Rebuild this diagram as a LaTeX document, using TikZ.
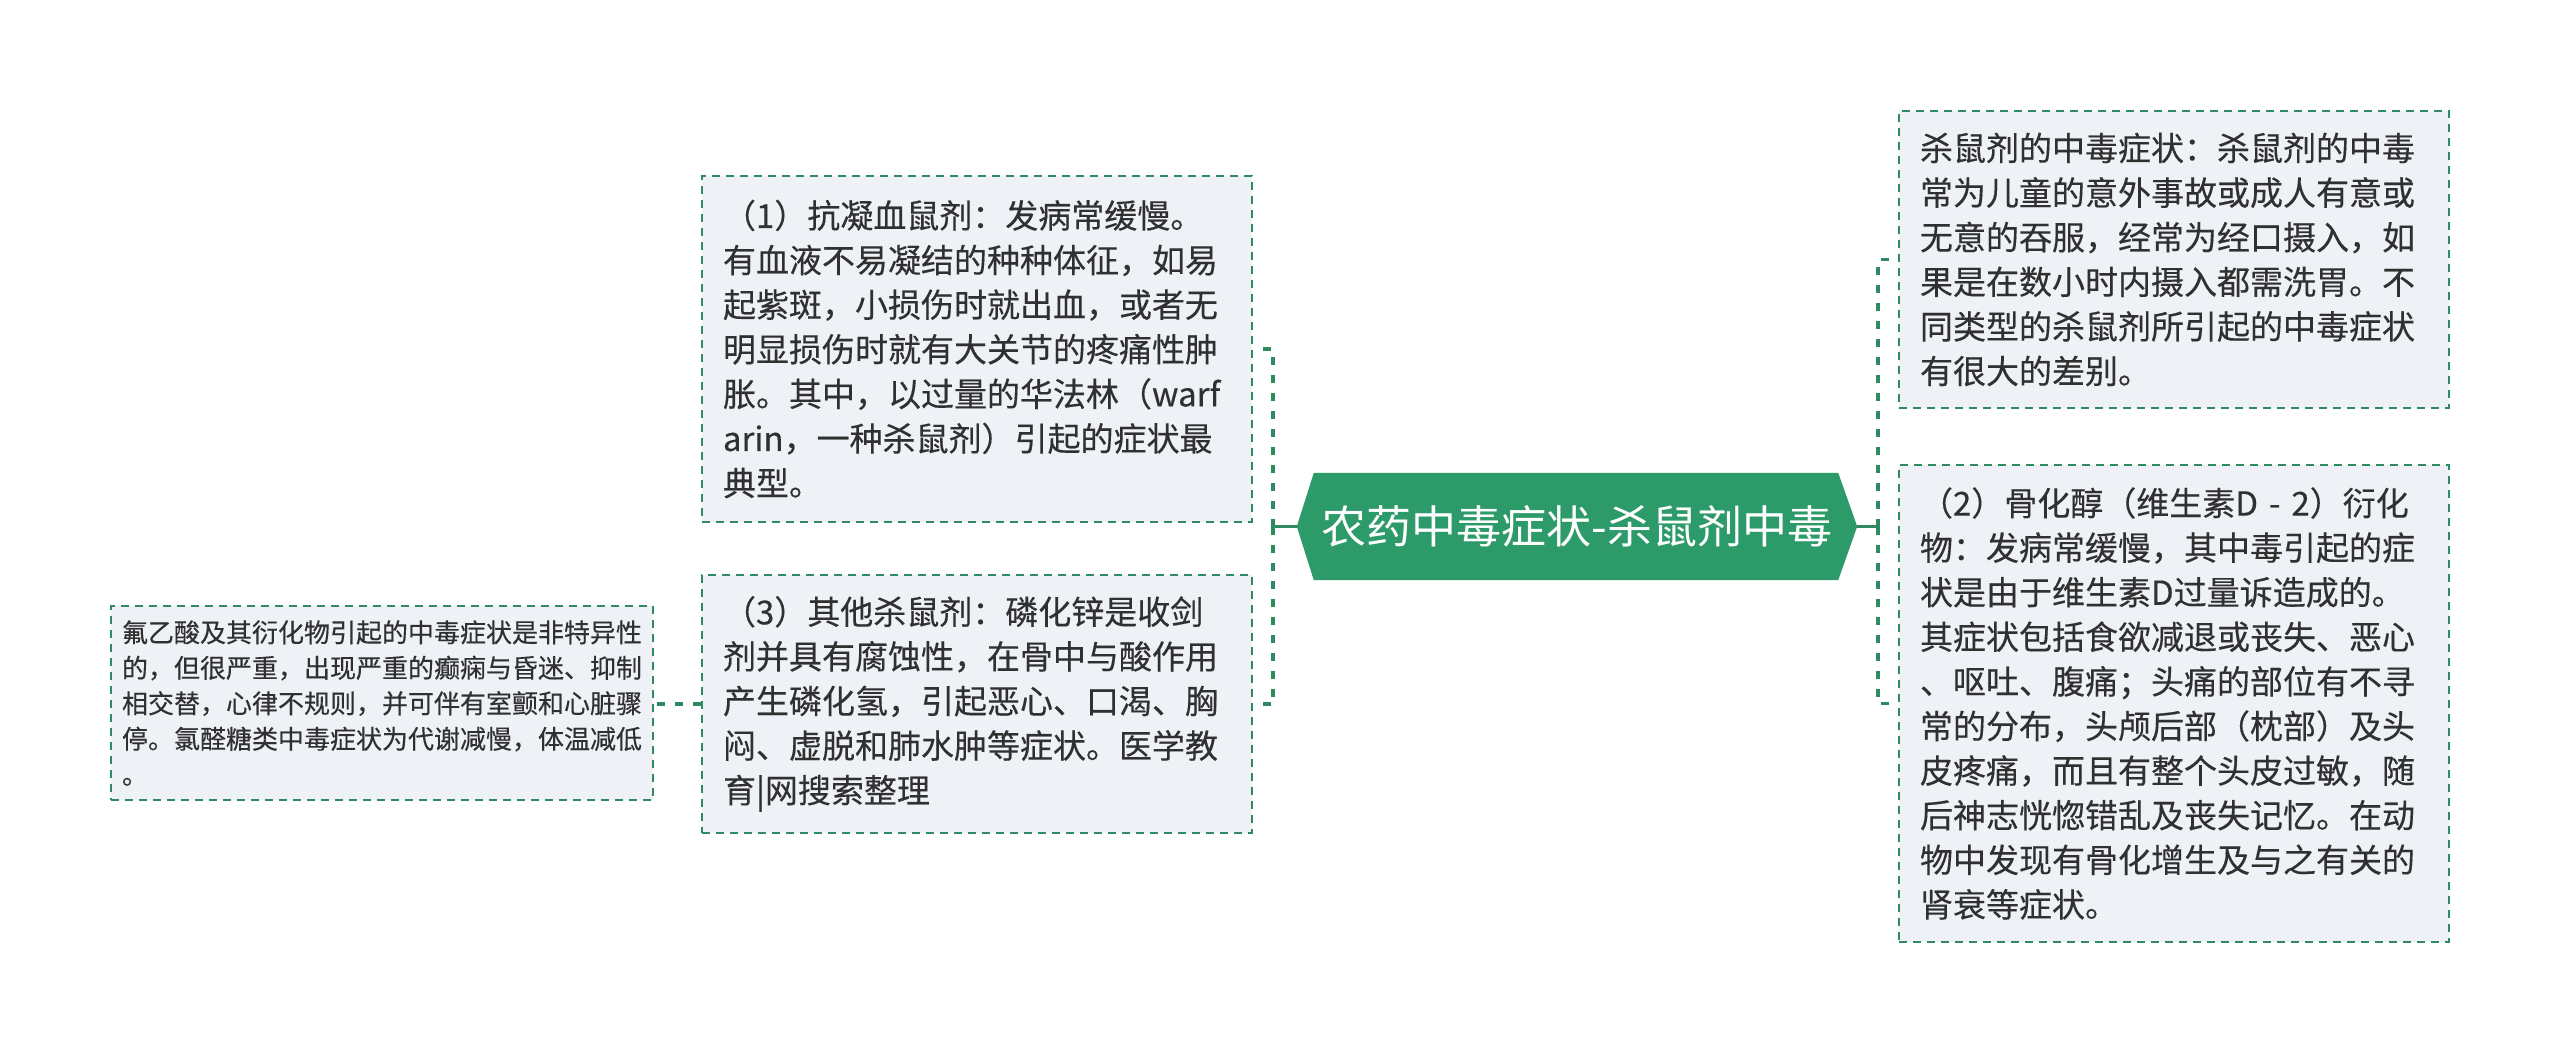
\documentclass[tikz,border=0pt]{standalone}
\usepackage{fontspec}
\newfontfamily\cjk{Noto Sans CJK SC}
\newfontfamily\cjkb[FakeBold=0.3]{Noto Sans CJK SC}
\usetikzlibrary{calc,backgrounds}
\definecolor{gline}{HTML}{2F8A60}
\definecolor{gfill}{HTML}{2C9A69}
\definecolor{boxfill}{HTML}{EEF1F5}
\definecolor{txt}{HTML}{303030}
\begin{document}
\begin{tikzpicture}[x=1pt,y=-1pt,
  leaf/.style={draw=gline, line width=2pt, dash pattern=on 8pt off 6pt, fill=boxfill,
    text=txt, font=\cjkb\fontsize{33}{44.6}\selectfont, align=left,
    text width=508pt, inner xsep=21pt, inner ysep=0pt, minimum width=550pt},
  smallleaf/.style={leaf, font=\cjkb\fontsize{26}{35.5}\selectfont,
    text width=520pt, inner xsep=11pt, minimum width=542pt},
  conn/.style={draw=gline, line width=3.5pt, dash pattern=on 8pt off 10pt},
  stub/.style={draw=gline, line width=3.5pt},
  rootnode/.style={inner sep=0pt, minimum width=560pt, minimum height=107pt,
    text=white, font=\cjk\fontsize{45}{50}\selectfont}
]
\useasboundingbox (0,0) rectangle (2560,1053);

\node[rootnode] (c) at (1577,526.5) {农药中毒症状-杀鼠剂中毒};

\begin{scope}[on background layer]
  \fill[white] (0,0) rectangle (2560,1053);
  \fill[gfill] (c.west) -- ($(c.north west)+(17,0)$) -- ($(c.north east)+(-19,0)$)
    -- (c.east) -- ($(c.south east)+(-19,0)$) -- ($(c.south west)+(17,0)$) -- cycle;
\end{scope}

\node[leaf, minimum height=346pt] (b1) at (977,349) {（1）抗凝血鼠剂：发病常缓慢。\\有血液不易凝结的种种体征，如易\\起紫斑，小损伤时就出血，或者无\\明显损伤时就有大关节的疼痛性肿\\胀。其中，以过量的华法林（warf\\arin，一种杀鼠剂）引起的症状最\\典型。};

\node[leaf, minimum height=258pt] (b3) at (977,704) {（3）其他杀鼠剂：磷化锌是收剑\\剂并具有腐蚀性，在骨中与酸作用\\产生磷化氢，引起恶心、口渴、胸\\闷、虚脱和肺水肿等症状。医学教\\育|网搜索整理};

\node[smallleaf, minimum height=194pt] (bl) at (382,703) {氟乙酸及其衍化物引起的中毒症状是非特异性\\的，但很严重，出现严重的癫痫与昏迷、抑制\\相交替，心律不规则，并可伴有室颤和心脏骤\\停。氯醛糖类中毒症状为代谢减慢，体温减低\\。};

\node[leaf, minimum height=297pt] (r1) at (2174,259.5) {杀鼠剂的中毒症状：杀鼠剂的中毒\\常为儿童的意外事故或成人有意或\\无意的吞服，经常为经口摄入，如\\果是在数小时内摄入都需洗胃。不\\同类型的杀鼠剂所引起的中毒症状\\有很大的差别。};

\node[leaf, minimum height=477pt] (r2) at (2174,703.5) {（2）骨化醇（维生素D - 2）衍化\\物：发病常缓慢，其中毒引起的症\\状是由于维生素D过量诉造成的。\\其症状包括食欲减退或丧失、恶心\\、呕吐、腹痛；头痛的部位有不寻\\常的分布，头颅后部（枕部）及头\\皮疼痛，而且有整个头皮过敏，随\\后神志恍惚错乱及丧失记忆。在动\\物中发现有骨化增生及与之有关的\\肾衰等症状。};

\coordinate (jl) at (1273,526.5);
\coordinate (jr) at (1878,526.5);

\draw[stub] (c.west) -- (jl);
\draw[conn] (jl) |- (b1.east);
\draw[conn] (jl) |- (b3.east);
\draw[stub] (c.east) -- (jr);
\draw[conn] (jr) |- (r1.west);
\draw[conn] (jr) |- (r2.west);
\draw[conn] (b3.west) -- (b3.west -| bl.east);
\end{tikzpicture}
\end{document}
